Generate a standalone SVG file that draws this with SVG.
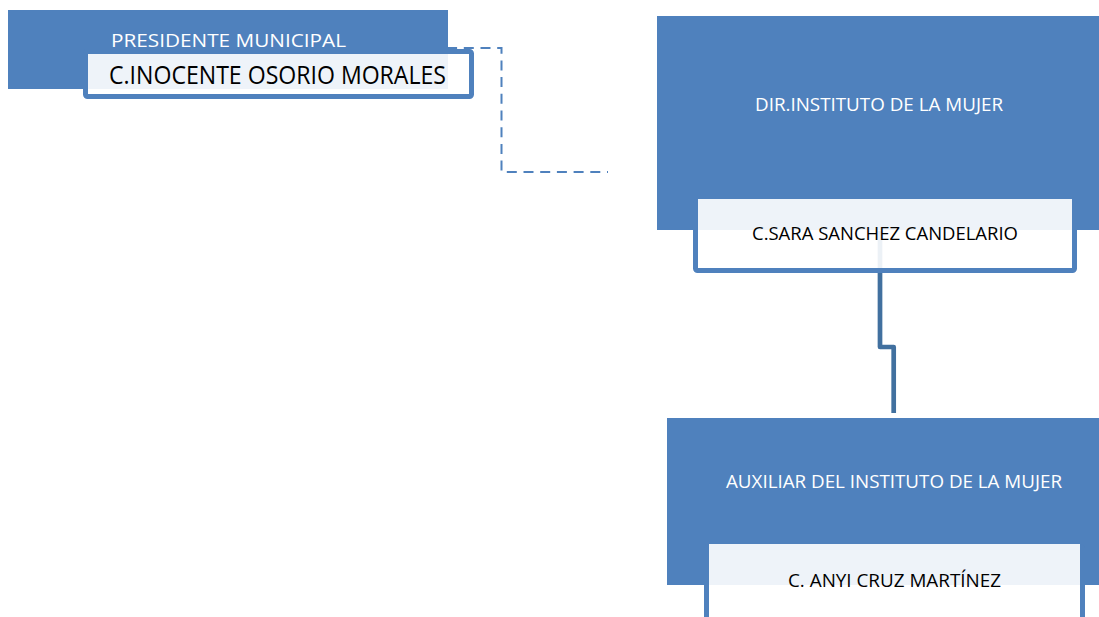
<svg xmlns="http://www.w3.org/2000/svg" width="1099" height="617" viewBox="0 0 1099 617">
  <style>
    .box { fill: #4F81BD; }
    .frame { fill: none; stroke: #4F81BD; stroke-width: 5; }
    .veil { fill: #FFFFFF; fill-opacity: 0.9; }
    .t { font-family: "Open Sans", "Noto Sans", "Liberation Sans", sans-serif; }
    .title { fill: #FFFFFF; font-size: 19px; }
    .name { fill: #000000; font-size: 19px; }
    .dash { fill: none; stroke: #4F81BD; stroke-width: 2; stroke-dasharray: 10 6.7; }
    .solid { fill: none; stroke: #41709F; stroke-width: 4.7; stroke-linejoin: round; }
  </style>
  <rect width="1099" height="617" fill="#FFFFFF"/>
  <g id="connectors">
    <path class="dash" d="M 397 48 H 501.5 V 172 H 608"/>
    <path class="solid" d="M 880 231 V 347 H 893.7 V 413"/>
  </g>
  <g id="presidente">
    <rect class="box" x="8" y="10" width="440" height="79"/>
    <rect class="frame" x="85.5" y="51.5" width="386" height="45" rx="2"/>
    <rect class="veil" x="88" y="54" width="381" height="40"/>
    <text class="t title" x="111" y="46.5" textLength="235" lengthAdjust="spacingAndGlyphs">PRESIDENTE MUNICIPAL</text>
    <text class="t name" x="109" y="84" font-size="25" style="font-size:25px" textLength="337" lengthAdjust="spacingAndGlyphs">C.INOCENTE OSORIO MORALES</text>
  </g>
  <g id="dir-instituto">
    <rect class="box" x="657" y="16" width="442" height="214"/>
    <rect class="frame" x="695.5" y="201.5" width="379" height="69" rx="2"/>
    <rect class="veil" x="698" y="199" width="374" height="69"/>
    <text class="t title" x="755" y="111" textLength="248" lengthAdjust="spacingAndGlyphs">DIR.INSTITUTO DE LA MUJER</text>
    <text class="t name" x="752" y="240" textLength="266" lengthAdjust="spacingAndGlyphs">C.SARA SANCHEZ CANDELARIO</text>
  </g>
  <g id="auxiliar">
    <rect class="box" x="667" y="418" width="432" height="167"/>
    <rect class="frame" x="706.5" y="546.5" width="376" height="90" rx="2"/>
    <rect class="veil" x="709" y="544" width="371" height="90"/>
    <text class="t title" x="726" y="488" textLength="336" lengthAdjust="spacingAndGlyphs">AUXILIAR DEL INSTITUTO DE LA MUJER</text>
    <text class="t name" x="788" y="587" textLength="213" lengthAdjust="spacingAndGlyphs">C. ANYI CRUZ MARTÍNEZ</text>
  </g>
</svg>
